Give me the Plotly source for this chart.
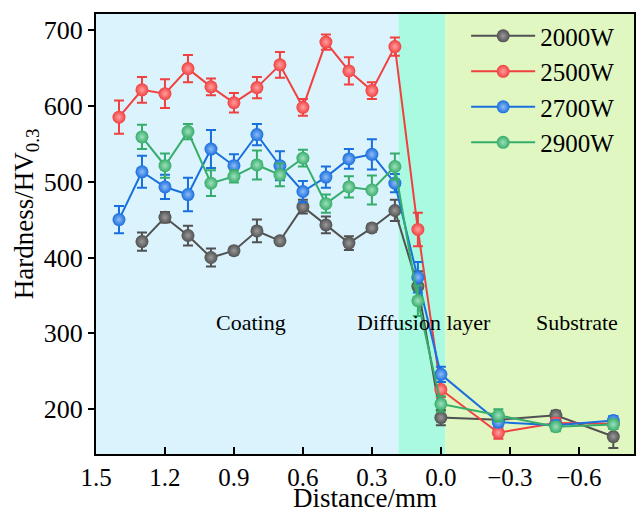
import plotly.graph_objects as go

x_coat = [1.4, 1.3, 1.2, 1.1, 1.0, 0.9, 0.8, 0.7, 0.6, 0.5, 0.4, 0.3, 0.2, 0.1, 0.0, -0.25, -0.5, -0.75]
x_13 = x_coat[1:]

h2000 = [421, 453, 429, 400, 409, 435, 422, 467, 443, 419, 439, 462, 362, 189, 186, 192, 164]
e2000 = [12, 7, 13, 12, 5, 15, 4, 9, 11, 9, 5, 14, 20, 10, 6, 6, 15]

h2500 = [585, 621, 616, 649, 625, 604, 624, 654, 598, 684, 646, 620, 678, 437, 226, 169, 182, 181]
e2500 = [22, 17, 19, 18, 11, 13, 14, 17, 11, 10, 18, 11, 12, 22, 10, 8, 6, 6]

h2700 = [450, 513, 493, 483, 543, 521, 562, 521, 487, 506, 530, 536, 498, 374, 246, 183, 179, 185]
e2700 = [18, 21, 16, 22, 25, 15, 14, 19, 14, 14, 13, 20, 12, 20, 10, 6, 6, 6]

h2900 = [559, 521, 566, 498, 507, 522, 509, 531, 471, 493, 489, 520, 343, 207, 192, 177, 180]
e2900 = [16, 16, 10, 17, 8, 19, 15, 11, 12, 14, 19, 17, 20, 10, 8, 6, 6]

series = [
    ("2000W", x_13, h2000, e2000, "#515151", "#9a9a9a"),
    ("2500W", x_coat, h2500, e2500, "#F14040", "#ffa0a0"),
    ("2700W", x_coat, h2700, e2700, "#1A6FDF", "#8fbcf5"),
    ("2900W", x_13, h2900, e2900, "#37AD6B", "#9fe0bb"),
]

regions = [
    (1.5, 0.185, "rgb(218,243,252)"),
    (0.185, -0.02, "rgb(170,250,226)"),
    (-0.02, -0.84, "rgb(224,247,194)"),
]

labels = [("Coating", 0.825, 314), ("Diffusion layer", 0.075, 314), ("Substrate", -0.59, 314)]

font = "Liberation Serif, Times New Roman, serif"

fig = go.Figure()
for name, xs, ys, es, col, hi in series:
    fig.add_trace(go.Scatter(
        x=xs, y=ys, name=name, mode="lines+markers",
        line=dict(color=col, width=2),
        marker=dict(size=13, color=col, gradient=dict(type="radial", color=hi),
                    line=dict(width=0)),
        error_y=dict(type="data", array=es, visible=True, color=col, thickness=2, width=5),
    ))

shapes = []
for x0, x1, c in regions:
    shapes.append(dict(type="rect", xref="x", yref="paper", x0=x0, x1=x1, y0=0, y1=1,
                       fillcolor=c, line=dict(width=0), layer="below"))

annotations = []
for t, xx, yy in labels:
    annotations.append(dict(text=t, x=xx, y=yy, xref="x", yref="y", showarrow=False,
                            font=dict(family=font, size=22, color="black")))
annotations.append(dict(text="Hardness/HV<sub>0.3</sub>", x=-0.13, y=0.545, xref="paper", yref="paper",
                        textangle=-90, showarrow=False, xanchor="center", yanchor="middle",
                        font=dict(family=font, size=27, color="black")))
annotations.append(dict(text="Distance/mm", x=0.5, y=-0.1, xref="paper", yref="paper",
                        showarrow=False, xanchor="center", yanchor="middle",
                        font=dict(family=font, size=27, color="black")))

fig.update_layout(
    width=636, height=511,
    margin=dict(l=96, r=2, t=14, b=57, autoexpand=False),
    paper_bgcolor="white", plot_bgcolor="white",
    shapes=shapes, annotations=annotations,
    font=dict(family=font, color="black"),
    showlegend=True,
    legend=dict(x=0.688, y=1.002, xanchor="left", yanchor="top",
                bgcolor="rgba(0,0,0,0)", font=dict(family=font, size=25),
                itemwidth=64, tracegroupgap=0),
    xaxis=dict(range=[1.5, -0.84], tickvals=[1.5, 1.2, 0.9, 0.6, 0.3, 0.0, -0.3, -0.6],
               tickformat=".1f", ticks="inside", ticklen=7, tickwidth=2, tickcolor="black",
               showline=True, linewidth=2, linecolor="black", mirror=True,
               showgrid=False, zeroline=False, automargin=False,
               tickfont=dict(family=font, size=25)),
    yaxis=dict(range=[141, 721], tickvals=[200, 300, 400, 500, 600, 700],
               ticks="outside", ticklen=6, tickwidth=2, tickcolor="black",
               showline=True, linewidth=2, linecolor="black", mirror=True,
               showgrid=False, zeroline=False, automargin=False,
               tickfont=dict(family=font, size=26)),
)

fig.write_html("out.html")
